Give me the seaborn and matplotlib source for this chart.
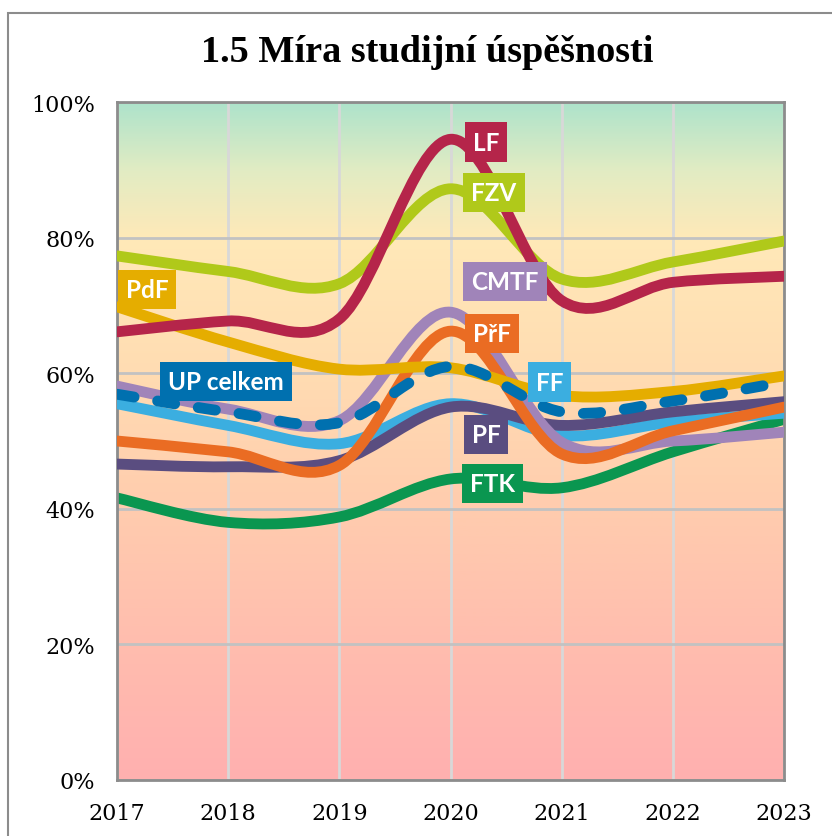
import numpy as np
import pandas as pd
import matplotlib
matplotlib.use("Agg")
import matplotlib.pyplot as plt
import seaborn as sns
from matplotlib.path import Path
from matplotlib.patches import PathPatch, Rectangle
from matplotlib.colors import LinearSegmentedColormap

# data (percent)
years = [2017, 2018, 2019, 2020, 2021, 2022, 2023]
ftk = [41.6, 38.0, 38.8, 44.4, 43.1, 48.4, 53.2]
ff = [55.5, 52.3, 49.6, 55.5, 50.8, 52.8, 54.1]
pf = [46.6, 46.2, 47.1, 55.0, 52.3, 54.3, 55.8]
cmtf = [58.1, 54.7, 53.0, 69.0, 49.8, 50.0, 51.3]
prf = [50.0, 48.4, 46.4, 66.2, 48.1, 51.5, 55.0]
pdf_ = [69.8, 64.6, 60.6, 60.8, 56.7, 57.3, 59.6]
fzv = [77.3, 75.0, 73.2, 87.2, 73.9, 76.4, 79.5]
lf = [66.1, 67.7, 68.0, 94.5, 70.7, 73.4, 74.3]
up = [56.9, 54.3, 52.7, 61.0, 54.3, 55.9, 58.7]

series = ["FTK", "FF", "PF", "CMTF", "PřF", "PdF", "FZV", "LF", "UP celkem"]
values = [ftk, ff, pf, cmtf, prf, pdf_, fzv, lf, up]
colors = {"FTK": "#0A9650", "FF": "#3BAEE0", "PF": "#5A4D80", "CMTF": "#A084B9",
          "PřF": "#EA6C23", "PdF": "#E5AD00", "FZV": "#B0C91A", "LF": "#B5254A",
          "UP celkem": "#0070AF"}
yticks = [0, 20, 40, 60, 80, 100]

df = pd.DataFrame([(name, yr, v) for name, vals in zip(series, values)
                   for yr, v in zip(years, vals)], columns=["fakulta", "rok", "hodnota"])


def smooth_path(xy):
    # Excel-like smoothed line: cubic bezier through the points
    n = len(xy)
    verts = [xy[0]]
    codes = [Path.MOVETO]
    for i in range(n - 1):
        p0 = xy[i - 1] if i > 0 else xy[i]
        p1, p2 = xy[i], xy[i + 1]
        p3 = xy[i + 2] if i + 2 < n else xy[i + 1]
        verts += [p1 + (p2 - p0) / 6, p2 - (p3 - p1) / 6, p2]
        codes += [Path.CURVE4] * 3
    return Path(verts, codes)


sns.set_theme(style="white")
fig = plt.figure(figsize=(8.32, 8.37), dpi=100)
ax = fig.add_axes([117 / 832, 1 - 781 / 837, 667 / 832, 678 / 837])

# background gradient
cmap = LinearSegmentedColormap.from_list("bg", [
    (0.0, "#FFB0B0"), (0.2, "#FFBDAE"), (0.4, "#FFCCAE"), (0.6, "#FFDCB2"),
    (0.8, "#FFE9B8"), (0.9, "#E2ECC3"), (1.0, "#AEE3CB")])
ax.imshow(np.linspace(0, 1, 256).reshape(-1, 1), extent=[2017, 2023, 0, 100],
          origin="lower", aspect="auto", cmap=cmap, zorder=0)

sns.lineplot(data=df, x="rok", y="hodnota", hue="fakulta", hue_order=series,
             palette=colors, legend=False, ax=ax, lw=7.5)

# turn seaborn's straight segments into smoothed curves
for i, line in enumerate(list(ax.lines)):
    name = series[i]
    patch = PathPatch(smooth_path(line.get_xydata()), facecolor="none",
                      edgecolor=line.get_color(), lw=7.8, zorder=2 + i)
    patch.set_capstyle("round")
    patch.set_joinstyle("round")
    if name == "UP celkem":
        patch.set_linestyle((0, (1.6, 2.2)))
    ax.add_patch(patch)
    line.set_visible(False)

# labels
label_pos = {"LF": (2020.32, 94.1), "FZV": (2020.39, 86.6), "CMTF": (2020.49, 73.5),
             "PřF": (2020.37, 65.8), "FF": (2020.89, 58.7), "PF": (2020.32, 51.0),
             "FTK": (2020.38, 43.7), "PdF": (2017.27, 72.4), "UP celkem": (2017.98, 58.8)}
for name, (x, y) in label_pos.items():
    ax.text(x, y, name, ha="center", va="center", color="white", fontsize=17.5,
            fontweight="bold", family="Lato", zorder=20,
            bbox=dict(boxstyle="square,pad=0.33", fc=colors[name], ec="none"))

ax.set_xlim(2017, 2023)
ax.set_ylim(0, 100)
ax.set_xticks(years)
ax.set_xticklabels([str(y) for y in years])
ax.set_yticks(yticks)
ax.set_yticklabels([f"{v}%" for v in yticks])
ax.set_xlabel("")
ax.set_ylabel("")
ax.tick_params(length=0, pad=16, labelsize=16, labelcolor="black")
for lab in ax.get_xticklabels() + ax.get_yticklabels():
    lab.set_family("DejaVu Serif")

ax.set_axisbelow(True)
ax.xaxis.grid(True, color="#D8D8D8", lw=2)
ax.yaxis.grid(True, color="#C2C2C2", lw=2)
for s in ax.spines.values():
    s.set_color("#8C8C8C")
    s.set_linewidth(2)

fig.text(427 / 832, 1 - 53 / 837, "1.5 Míra studijní úspěšnosti", ha="center",
         va="center", fontsize=27.5, fontweight="bold", family="Liberation Serif",
         color="black")

# outer chart frame
fig.add_artist(Rectangle((8 / 832, -0.5), 2, 0.5 + 1 - 14 / 837, transform=fig.transFigure,
                         fill=False, ec="#8C8C8C", lw=1.5))

fig.savefig("out.png", dpi=100)
